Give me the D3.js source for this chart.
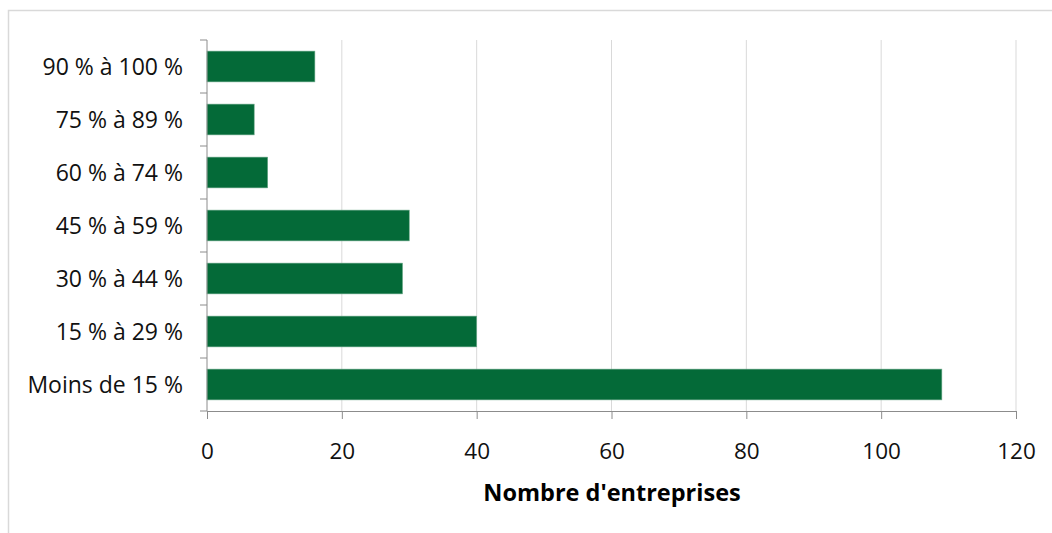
<!DOCTYPE html>
<html><head><meta charset="utf-8">
<script src="https://cdn.jsdelivr.net/npm/d3@7/dist/d3.min.js"></script>
<style>body{margin:0;background:#fff;font-family:"Open Sans","Noto Sans",sans-serif;}</style>
</head><body><svg id="c" width="1052" height="533"></svg>
<script>
const categories = ["90 % à 100 %","75 % à 89 %","60 % à 74 %","45 % à 59 %","30 % à 44 %","15 % à 29 %","Moins de 15 %"];
const values = [16, 7, 9, 30, 29, 40, 109];
const xTicks = [0, 20, 40, 60, 80, 100, 120];
const xTitle = "Nombre d'entreprises";

const svg = d3.select("#c");
svg.append("rect").attr("x",8.5).attr("y",10.5).attr("width",1050).attr("height",540)
  .attr("fill","#fff").attr("stroke","#d9d9d9").attr("stroke-width",1.5);

const pL=207, pR=1016, pT=40, pB=411;
const x = d3.scaleLinear().domain([0,120]).range([pL,pR]);
const y = d3.scaleBand().domain(categories).range([pT,pB]).paddingInner(0.42).paddingOuter(0.21);

// gridlines
svg.append("g").selectAll("line").data(xTicks.filter(d=>d>0)).join("line")
  .attr("x1",d=>x(d)).attr("x2",d=>x(d)).attr("y1",pT).attr("y2",pB)
  .attr("stroke","#d9d9d9").attr("stroke-width",1);

// bars
svg.append("g").selectAll("rect").data(values).join("rect")
  .attr("x",x(0)).attr("y",(d,i)=>y(categories[i]))
  .attr("width",d=>x(d)-x(0)).attr("height",y.bandwidth())
  .attr("fill","#046a38").attr("stroke","#6aa888").attr("stroke-width",0.6);

// x axis
const xa = svg.append("g").attr("transform",`translate(0,${pB})`)
  .call(d3.axisBottom(x).tickValues(xTicks).tickSize(8).tickPadding(24).tickSizeOuter(0));
xa.select(".domain").attr("stroke","#8c8c8c");
xa.selectAll(".tick line").attr("stroke","#8c8c8c");
xa.selectAll("text").attr("font-size",22.5).attr("fill","#111").attr("font-family","'Open Sans','Noto Sans',sans-serif");

// y axis
const boundaries = d3.range(categories.length+1).map(i=>pT + i*(pB-pT)/categories.length);
svg.append("line").attr("x1",pL).attr("x2",pL).attr("y1",pT).attr("y2",pB).attr("stroke","#8c8c8c");
svg.append("g").selectAll("line").data(boundaries).join("line")
  .attr("x1",pL-7).attr("x2",pL).attr("y1",d=>d).attr("y2",d=>d).attr("stroke","#8c8c8c");
svg.append("g").selectAll("text").data(categories).join("text")
  .attr("x",183).attr("y",d=>y(d)+y.bandwidth()/2).attr("dy","0.35em")
  .attr("text-anchor","end").attr("font-size",23).attr("fill","#111").text(d=>d);

svg.append("text").attr("x",612).attr("y",501).attr("text-anchor","middle")
  .attr("font-size",23.5).attr("font-weight","bold").attr("fill","#000").text(xTitle);
</script></body></html>
